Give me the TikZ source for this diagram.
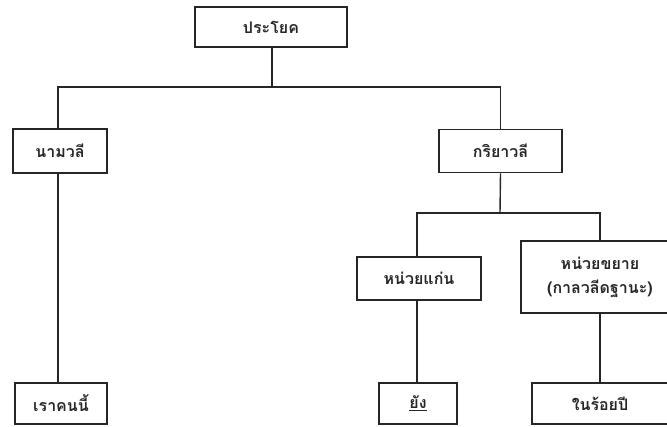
\documentclass[tikz,border=0pt]{standalone}
\usepackage{fontspec}
\newfontfamily\thaifont[Script=Thai]{Loma}
\begin{document}
\begin{tikzpicture}[x=1pt,y=-1pt,
  box/.style={draw=black!85,line width=1.7pt,rectangle,inner sep=0pt,
    font=\thaifont\bfseries\fontsize{16}{23}\selectfont,text=black!85,align=center},
  link/.style={draw=black!85,line width=1.4pt}]
\useasboundingbox (0,0) rectangle (667,426);
% boxes
\node[box,minimum width=152pt,minimum height=40pt] (root) at (271,27) {ประโยค};
\node[box,minimum width=94pt,minimum height=44pt] (np) at (60,151) {นามวลี};
\node[box,minimum width=123pt,minimum height=43pt] (vp) at (500.5,151) {กริยาวลี};
\node[box,minimum width=124pt,minimum height=43pt] (head) at (419,278.5) {หน่วยแก่น};
\node[box,minimum width=158pt,minimum height=72pt] (mod) at (600,277) {หน่วยขยาย\\[1pt](กาลวลีดฐานะ)};
\node[box,minimum width=92pt,minimum height=41pt] (w1) at (61,403.5) {เราคนนี้};
\node[box,minimum width=78pt,minimum height=41pt] (w2) at (418,403.5) {\underline{ยัง}};
\node[box,minimum width=136pt,minimum height=41pt] (w3) at (600,403.5) {ในร้อยปี};
% junction points of the tree
\coordinate (j1) at (272,87);
\coordinate (j2) at (500,213);
% connectors
\draw[link] (root.south -| j1) -- (j1);
\draw[link] (np.north -| 58,0) |- (j1) -| (vp.north);
\draw[link] (vp.south) -- (j2);
\draw[link] (head.north -| 417,0) |- (j2) -| (mod.north);
\draw[link] (np.south -| 58,0) -- (w1.north -| 58,0);
\draw[link] (head.south -| 417,0) -- (w2.north -| 417,0);
\draw[link] (mod.south) -- (w3.north);
\end{tikzpicture}
\end{document}
